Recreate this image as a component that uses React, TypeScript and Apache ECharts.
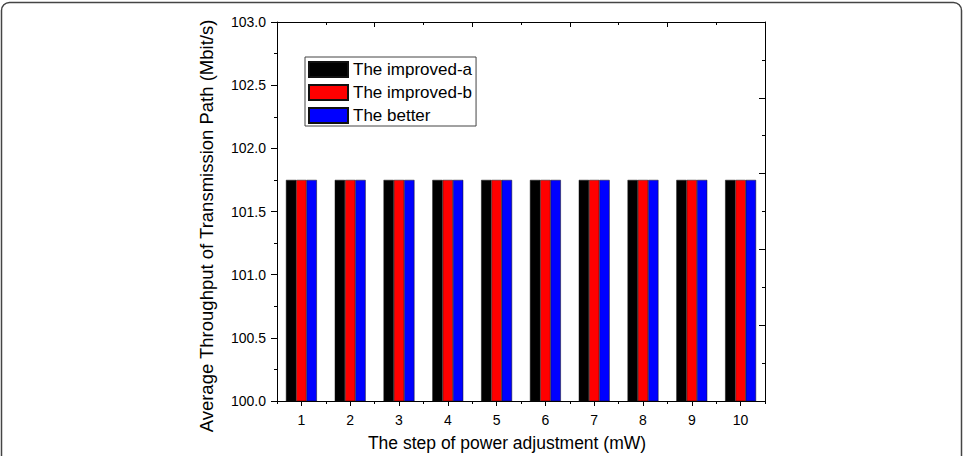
import React, { useEffect, useRef } from "react";
import * as echarts from "echarts";

const steps = ["1", "2", "3", "4", "5", "6", "7", "8", "9", "10"];
const improvedA = [101.75, 101.75, 101.75, 101.75, 101.75, 101.75, 101.75, 101.75, 101.75, 101.75];
const improvedB = [101.75, 101.75, 101.75, 101.75, 101.75, 101.75, 101.75, 101.75, 101.75, 101.75];
const better = [101.75, 101.75, 101.75, 101.75, 101.75, 101.75, 101.75, 101.75, 101.75, 101.75];
const seriesNames = ["The improved-a", "The improved-b", "The better"];
const seriesColors = ["#000000", "#ff0000", "#0000ff"];

const yName = "Average Throughput of Transmission Path (Mbit/s)";
const xName = "The step of power adjustment (mW)";

const FONT = "'Liberation Sans', Arial, sans-serif";

export default function App() {
  const ref = useRef<HTMLDivElement>(null);

  useEffect(() => {
    if (!ref.current) return;
    const chart = echarts.init(ref.current, null, { renderer: "svg" });
    const axisLine = { show: true, lineStyle: { color: "#000", width: 1 } };
    const data = [improvedA, improvedB, better];

    chart.setOption({
      animation: false,
      backgroundColor: "#fff",
      textStyle: { fontFamily: FONT },
      grid: { left: 277, right: 202, top: 22, bottom: 55, containLabel: false },
      legend: {
        orient: "vertical",
        left: 305,
        top: 57,
        data: seriesNames,
        icon: "rect",
        itemWidth: 39,
        itemHeight: 15,
        itemGap: 6,
        padding: [4, 4, 2, 3],
        borderColor: "#444",
        borderWidth: 1,
        backgroundColor: "#fff",
        textStyle: { fontFamily: FONT, fontSize: 17, color: "#000", lineHeight: 15 },
      },
      xAxis: [
        {
          type: "category",
          data: steps,
          position: "bottom",
          axisLine,
          axisTick: { show: true, alignWithLabel: true, length: 5, lineStyle: { color: "#000" } },
          axisLabel: { color: "#000", fontSize: 14, fontFamily: FONT, margin: 12 },
          splitLine: { show: false },
        },
        {
          type: "category",
          data: steps,
          position: "bottom",
          axisLine: { show: false },
          axisTick: { show: true, length: 3, lineStyle: { color: "#000" } },
          axisLabel: { show: false },
          splitLine: { show: false },
        },
        {
          type: "value",
          min: 0.5,
          max: 10.5,
          interval: 2,
          position: "top",
          axisLine,
          axisTick: { show: true, inside: true, length: 5, lineStyle: { color: "#000" } },
          minorTick: { show: true, splitNumber: 2, length: 3, lineStyle: { color: "#000" } },
          axisLabel: { show: false },
          splitLine: { show: false },
        },
      ],
      yAxis: [
        {
          type: "value",
          min: 100,
          max: 103,
          interval: 0.5,
          position: "left",
          axisLine,
          axisTick: { show: true, length: 6, lineStyle: { color: "#000" } },
          minorTick: { show: true, splitNumber: 2, length: 3, lineStyle: { color: "#000" } },
          axisLabel: {
            color: "#000",
            fontSize: 14,
            fontFamily: FONT,
            margin: 11,
            formatter: (v: number) => v.toFixed(1),
          },
          splitLine: { show: false },
        },
        {
          type: "value",
          min: 0,
          max: 10,
          interval: 2,
          position: "right",
          axisLine,
          axisTick: { show: true, inside: true, length: 6, lineStyle: { color: "#000" } },
          minorTick: { show: true, splitNumber: 2, length: 3, lineStyle: { color: "#000" } },
          axisLabel: { show: false },
          splitLine: { show: false },
        },
      ],
      series: seriesNames.map((name, i) => ({
        name,
        type: "bar",
        xAxisIndex: 0,
        yAxisIndex: 0,
        data: data[i],
        barWidth: 10.3,
        barGap: "0%",
        itemStyle: { color: seriesColors[i], borderColor: "#111", borderWidth: 0.5 },
      })),
      graphic: [
        {
          type: "rect",
          silent: true,
          z: -1,
          shape: { x: 1.5, y: 2.5, width: 960, height: 480, r: 8 },
          style: { fill: "none", stroke: "#444", lineWidth: 1.5 },
        },
        {
          type: "text",
          x: 206,
          y: 226,
          rotation: Math.PI / 2,
          style: {
            text: yName,
            font: `18.5px ${FONT}`,
            fill: "#000",
            textAlign: "center",
            textVerticalAlign: "middle",
          },
        },
        {
          type: "text",
          x: 507,
          y: 443,
          style: {
            text: xName,
            font: `17.5px ${FONT}`,
            fill: "#000",
            textAlign: "center",
            textVerticalAlign: "middle",
          },
        },
      ],
    });

    return () => chart.dispose();
  }, []);

  return (
    <div
      ref={ref}
      style={{ position: "fixed", left: 0, top: 0, width: 967, height: 456 }}
    />
  );
}
